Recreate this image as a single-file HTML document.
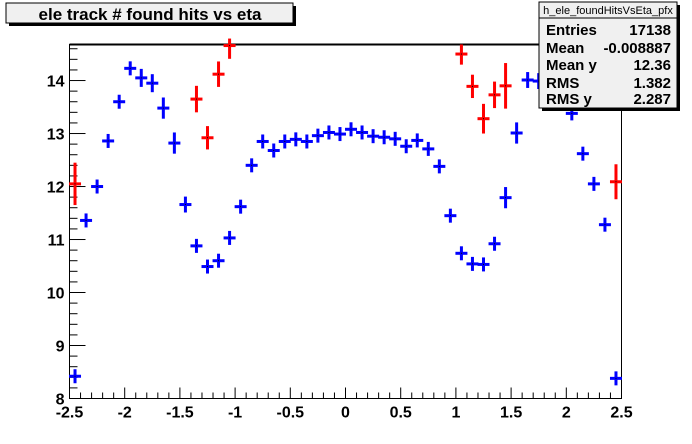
<!DOCTYPE html>
<html><head><meta charset="utf-8"><style>
body{margin:0;background:#fff;}
svg{display:block;font-family:"Liberation Sans",Arial,sans-serif;}
</style></head><body>
<svg id="c" width="692" height="444">
<rect x="0" y="0" width="692" height="444" fill="#fff"/>
<g>
<rect x="9" y="6" width="287" height="20" fill="#000"/>
<rect x="6" y="3" width="287" height="20" fill="#f0f0f0" stroke="#000" stroke-width="1"/>
<text x="150" y="20" text-anchor="middle" font-size="17" font-weight="bold">ele track # found hits vs eta</text>
</g>
<g id="frame"></g>
<g id="marks"></g>
<g>
<rect x="542" y="5" width="138" height="106" fill="#000"/>
<rect x="539" y="2" width="138" height="106" fill="#f0f0f0" stroke="#000" stroke-width="1"/>
<line x1="539" y1="18" x2="677" y2="18" stroke="#000"/>
<text x="608" y="14" text-anchor="middle" font-size="11">h_ele_foundHitsVsEta_pfx</text>
<g font-size="15" font-weight="bold">
<text x="546" y="35">Entries</text><text x="671" y="35" text-anchor="end">17138</text>
<text x="546" y="53">Mean</text><text x="671" y="53" text-anchor="end">-0.008887</text>
<text x="546" y="70">Mean y</text><text x="671" y="70" text-anchor="end">12.36</text>
<text x="546" y="88">RMS</text><text x="671" y="88" text-anchor="end">1.382</text>
<text x="546" y="104">RMS y</text><text x="671" y="104" text-anchor="end">2.287</text>
</g>
</g>
</svg>
<script>
const blueEta=[-2.45,-2.35,-2.25,-2.15,-2.05,-1.95,-1.85,-1.75,-1.65,-1.55,-1.45,-1.35,-1.25,-1.15,-1.05,-0.95,-0.85,-0.75,-0.65,-0.55,-0.45,-0.35,-0.25,-0.15,-0.05,0.05,0.15,0.25,0.35,0.45,0.55,0.65,0.75,0.85,0.95,1.05,1.15,1.25,1.35,1.45,1.55,1.65,1.75,1.85,1.95,2.05,2.15,2.25,2.35,2.45];
const blueVal=[8.42,11.36,12.0,12.86,13.6,14.23,14.05,13.95,13.48,12.82,11.66,10.88,10.49,10.6,11.03,11.62,12.4,12.85,12.68,12.85,12.89,12.85,12.96,13.02,12.99,13.08,13.02,12.95,12.93,12.9,12.76,12.87,12.71,12.38,11.45,10.74,10.54,10.53,10.92,11.79,13.01,14.01,13.99,14.1,14.2,13.38,12.62,12.05,11.28,8.38];
const blueErr=[0.12,0.1,0.1,0.1,0.12,0.12,0.17,0.17,0.2,0.2,0.15,0.1,0.1,0.1,0.1,0.08,0.08,0.08,0.08,0.07,0.07,0.07,0.07,0.07,0.07,0.07,0.07,0.07,0.07,0.07,0.07,0.07,0.08,0.08,0.08,0.08,0.08,0.08,0.1,0.2,0.2,0.15,0.15,0.15,0.15,0.12,0.12,0.12,0.12,0.12];
const redEta=[-2.45,-1.35,-1.25,-1.15,-1.05,1.05,1.15,1.25,1.35,1.45,2.45];
const redVal=[12.05,13.65,12.92,14.12,14.66,14.5,13.89,13.28,13.73,13.9,12.09];
const redErr=[0.4,0.25,0.22,0.24,0.25,0.2,0.22,0.28,0.25,0.43,0.33];
const xTicks=[-2.5,-2,-1.5,-1,-0.5,0,0.5,1,1.5,2,2.5];
const xTickLabels=["-2.5","-2","-1.5","-1","-0.5","0","0.5","1","1.5","2","2.5"];
const yTicks=[8,9,10,11,12,13,14];
const yTickLabels=["8","9","10","11","12","13","14"];
const X0=69.5,X1=621.5,Y0=398.5,Y1=44.5,xmin=-2.5,xmax=2.5,ymin=8,ymax=14.68;
const sx=v=>X0+(v-xmin)/(xmax-xmin)*(X1-X0);
const sy=v=>Y0-(v-ymin)/(ymax-ymin)*(Y0-Y1);
const NS="http://www.w3.org/2000/svg";
function mk(tag,attrs,parent){const e=document.createElementNS(NS,tag);for(const k in attrs)e.setAttribute(k,attrs[k]);parent.appendChild(e);return e;}
const fr=document.getElementById('frame');
const box=mk('rect',{x:X0,y:Y1,width:X1-X0,height:Y0-Y1,fill:'none',stroke:'#000','stroke-width':1},fr);


mk('line',{x1:X0,y1:Y1,x2:X1,y2:Y1,stroke:'#000','stroke-width':2},fr);
for(let i=0;i<=50;i++){const v=-2.5+i*0.1;const x=sx(v);const major=i%5===0&&Math.abs(v*2-Math.round(v*2))<1e-6&&i%5===0;
 const len=(i%5===0)?11:6;mk('line',{x1:x,y1:Y0,x2:x,y2:Y0-len,stroke:'#000'},fr);}
xTicks.forEach((v,i)=>{const t=mk('text',{x:sx(v),y:Y0+19,'text-anchor':'middle','font-size':16,'font-weight':'bold'},fr);t.textContent=xTickLabels[i];

});
for(let v=8;v<=14.68+1e-6;v+=0.2){const y=sy(v);const maj=Math.abs(v-Math.round(v))<1e-6;mk('line',{x1:X0,y1:y,x2:X0+(maj?16:8),y2:y,stroke:'#000'},fr);}
yTicks.forEach((v,i)=>{const t=mk('text',{x:X0-5,y:sy(v)+6,'text-anchor':'end','font-size':16,'font-weight':'bold'},fr);t.textContent=yTickLabels[i];

});
const mg=document.getElementById('marks');
function draw(eta,val,err,col,name){eta.forEach((e,i)=>{const g=mk('g',{},mg);


const x=sx(e),y=sy(val[i]);const top=Math.max(Y1,sy(val[i]+err[i])),bot=sy(val[i]-err[i]);
mk('line',{x1:x-6,y1:y,x2:x+6,y2:y,stroke:col,'stroke-width':3},g);
mk('line',{x1:x,y1:Math.min(top,y-7),x2:x,y2:Math.max(bot,y+7),stroke:col,'stroke-width':3},g);
mk('rect',{x:x-0.5,y:y-0.5,width:1,height:1,fill:'#000'},g);});}
draw(blueEta,blueVal,blueErr,'#0000ff','blue-point');
draw(redEta,redVal,redErr,'#ff0000','red-point');
</script>
</body></html>
